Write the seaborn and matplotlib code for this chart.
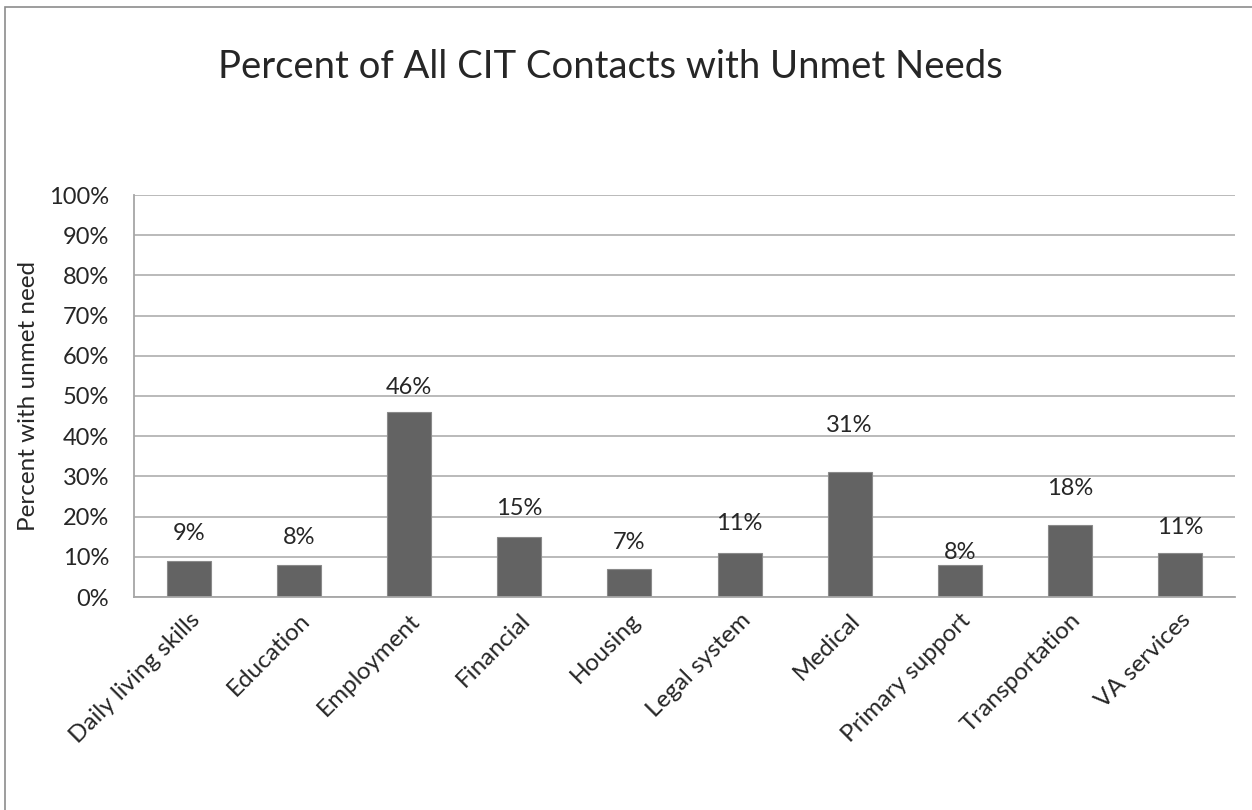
import matplotlib
matplotlib.use("Agg")
import matplotlib.pyplot as plt
from matplotlib.patches import Rectangle
import pandas as pd
import seaborn as sns

categories = ["Daily living skills", "Education", "Employment", "Financial", "Housing",
              "Legal system", "Medical", "Primary support", "Transportation", "VA services"]
percents = [9, 8, 46, 15, 7, 11, 31, 8, 18, 11]
# the data labels in the original sit at slightly different heights (pixels above bar top)
label_lift = [27, 27, 25, 28, 26, 29, 47, 12, 36, 25]
yticks = list(range(0, 101, 10))

df = pd.DataFrame({"need": categories, "pct": percents})

sns.set_style("white")
plt.rcParams["font.family"] = ["Lato", "DejaVu Sans"]

fig = plt.figure(figsize=(12.52, 8.10), dpi=100)
ax = fig.add_axes([134 / 1252, 213 / 810, 1101 / 1252, 402 / 810])

sns.barplot(data=df, x="need", y="pct", color="#636363", width=0.4,
            edgecolor="#8a8a8a", linewidth=0.8, saturation=1, ax=ax)

ax.set_ylim(0, 100)
ax.set_xlim(-0.5, len(categories) - 0.5)
ax.set_yticks(yticks)
ax.set_yticklabels([f"{t}%" for t in yticks], fontsize=17)
ax.yaxis.grid(True, color="#b4b4b4", linewidth=1.3)
ax.set_axisbelow(True)

ax.set_xticks(range(len(categories)))
ax.set_xticklabels(categories, rotation=45, ha="right", rotation_mode="anchor", fontsize=17.5)
ax.set_xticks([i - 0.5 for i in range(len(categories) + 1)], minor=True)
ax.tick_params(axis="x", which="major", length=0, pad=9)
ax.tick_params(axis="x", which="minor", length=6, width=1.2, color="#a6a6a6", direction="out")
ax.tick_params(axis="y", length=6, width=1.2, color="#a6a6a6", direction="out", pad=12)

for s in ["top", "right"]:
    ax.spines[s].set_visible(False)
for s in ["left", "bottom"]:
    ax.spines[s].set_color("#a6a6a6")
    ax.spines[s].set_linewidth(1.3)

ax.set_xlabel("")
ax.set_ylabel("Percent with unmet need", fontsize=17.5, labelpad=7)

for i, (v, lift) in enumerate(zip(percents, label_lift)):
    ax.annotate(f"{v}%", (i, v), xytext=(0, lift * 0.72), textcoords="offset points",
                ha="center", va="center", fontsize=17)

fig.text(610 / 1252, 1 - 67 / 810, "Percent of All CIT Contacts with Unmet Needs",
         ha="center", va="center", fontsize=27.5)

fig.patches.append(Rectangle((5 / 1252, -0.05), 1.2, 1 - 7 / 810 + 0.05,
                             transform=fig.transFigure, fill=False,
                             edgecolor="#8c8c8c", linewidth=1.2))

fig.savefig("out.png", dpi=100)
